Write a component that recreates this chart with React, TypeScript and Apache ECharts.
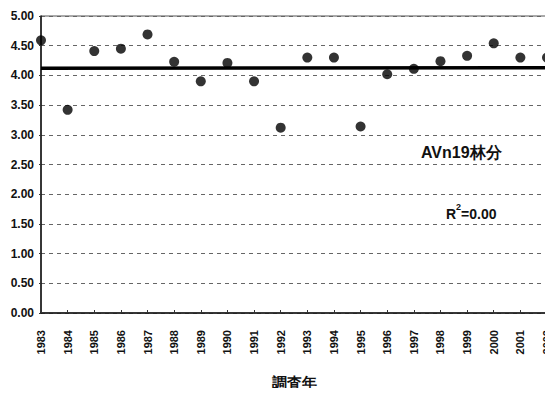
import React, { useEffect, useRef } from "react";
import * as echarts from "echarts";

// Survey years and the measured value for stand AVn19
const years = [
  "1983", "1984", "1985", "1986", "1987", "1988", "1989", "1990", "1991", "1992",
  "1993", "1994", "1995", "1996", "1997", "1998", "1999", "2000", "2001", "2002",
];
const values = [
  4.59, 3.42, 4.41, 4.45, 4.69, 4.23, 3.90, 4.21, 3.90, 3.12,
  4.30, 4.30, 3.14, 4.02, 4.11, 4.24, 4.33, 4.54, 4.30, 4.30,
];
// Linear trend endpoints (first and last year)
const trendStart = 4.12;
const trendEnd = 4.13;
const standLabel = "AVn19林分";
const r2Text = "0.00";
const xTitle = "調査年";

const FONT = "'Liberation Sans', Arial, sans-serif";

export default function App() {
  const ref = useRef<HTMLDivElement>(null);

  useEffect(() => {
    if (!ref.current) return;
    const chart = echarts.init(ref.current, undefined, { renderer: "svg" });
    chart.setOption({
      animation: false,
      backgroundColor: "#fff",
      grid: {
        left: 41,
        right: 6,
        top: 16,
        bottom: 83,
        show: true,
        borderColor: "#555",
        borderWidth: 1,
        backgroundColor: "transparent",
      },
      xAxis: {
        type: "category",
        data: years,
        boundaryGap: false,
        name: xTitle,
        nameLocation: "middle",
        nameGap: 62,
        nameTextStyle: { fontFamily: FONT, fontSize: 15, fontWeight: "bold", color: "#111" },
        axisLine: { lineStyle: { color: "#111", width: 1.5 } },
        axisTick: { show: true, inside: true, length: 3, alignWithLabel: true, lineStyle: { color: "#333" } },
        axisLabel: {
          rotate: 90,
          margin: 17,
          fontFamily: FONT,
          fontSize: 11,
          fontWeight: "bold",
          color: "#111",
          interval: 0,
        },
        splitLine: { show: false },
      },
      yAxis: {
        type: "value",
        min: 0,
        max: 5,
        interval: 0.5,
        axisLine: { show: true, lineStyle: { color: "#111", width: 1.5 } },
        axisTick: { show: true, inside: false, length: 2, lineStyle: { color: "#333" } },
        axisLabel: {
          margin: 7,
          fontFamily: FONT,
          fontSize: 12,
          fontWeight: "bold",
          color: "#111",
          formatter: (v: number) => v.toFixed(2),
        },
        splitLine: { show: true, lineStyle: { color: "#666", type: [4, 4], width: 1 } },
      },
      series: [
        {
          type: "line",
          data: [[years[0], trendStart], [years[years.length - 1], trendEnd]],
          symbol: "none",
          lineStyle: { color: "#000", width: 3.5 },
          z: 3,
        },
        {
          type: "scatter",
          data: values,
          symbol: "circle",
          symbolSize: 10,
          itemStyle: { color: "#000" },
          z: 4,
        },
      ],
      graphic: [
        {
          type: "text",
          left: 421,
          top: 144,
          style: { text: standLabel, fontFamily: FONT, fontSize: 16, fontWeight: "bold", fill: "#111" },
        },
        {
          type: "text",
          left: 446,
          top: 202,
          style: {
            text: "{b|R}{s|2}{b|=" + r2Text + "}",
            fontFamily: FONT,
            fill: "#111",
            rich: {
              b: { fontFamily: FONT, fontSize: 14, fontWeight: "bold", fill: "#111", verticalAlign: "bottom", lineHeight: 19 },
              s: { fontFamily: FONT, fontSize: 9, fontWeight: "bold", fill: "#111", verticalAlign: "top", lineHeight: 19 },
            },
          },
        },
      ],
    });
    return () => chart.dispose();
  }, []);

  return <div ref={ref} style={{ width: 553, height: 396, margin: -8 }} />;
}
